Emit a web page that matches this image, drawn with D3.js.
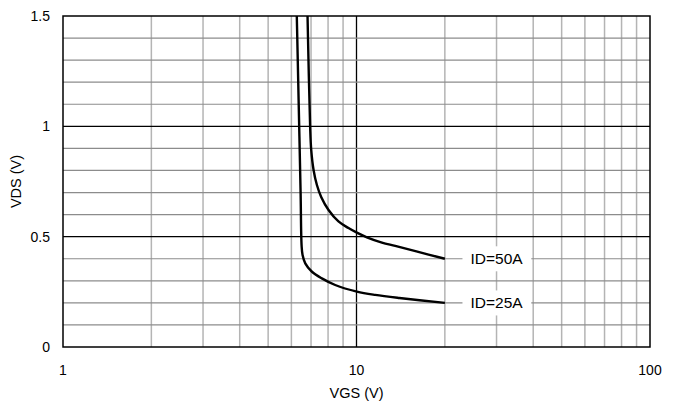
<!DOCTYPE html>
<html>
    <head>
        <script src="https://d3js.org/d3.v7.min.js"></script>
        <style>
            body { margin: 0; background: #fff; }
            text { font-family: "Liberation Sans", Arial, sans-serif; fill: #000; }
        </style>
    </head>
    <body>
        <svg id="chart" width="676" height="405"></svg>
        <script>
            // data
            let vgs50= [6.81, 6.95, 7.01, 7.14, 7.33, 7.58, 8.03, 8.68, 9.39, 10.03, 10.85, 12.21, 13.55, 16.0, 20.0];
            let vds50= [1.5, 1.0, 0.893, 0.802, 0.734, 0.680, 0.621, 0.569, 0.539, 0.518, 0.497, 0.473, 0.458, 0.433, 0.40];
            let vgs25= [6.26, 6.35, 6.45, 6.5, 6.55, 6.69, 7.05, 7.62, 8.46, 10.03, 11.58, 14.0, 20.0];
            let vds25= [1.5, 1.12, 0.7, 0.46, 0.417, 0.379, 0.341, 0.311, 0.281, 0.251, 0.236, 0.222, 0.20];
            let labels= ["ID=50A", "ID=25A"];
            let labelAt= [[30, 0.4], [30, 0.2]];
            let xTicks= [1, 10, 100];
            let yTicks= [0, 0.5, 1, 1.5];

            let svg= d3.select("#chart");
            let pLeft= 63, pRight= 650, pTop= 16, pBottom= 347;

            let x= d3.scaleLog().domain([1, 100]).range([pLeft, pRight]);
            let y= d3.scaleLinear().domain([0, 1.5]).range([pBottom, pTop]);

            //grid
            let grid= svg.append("g");
            let minorX= [];
            for (let d= 1; d < 100; d*= 10) {
                for (let k= 2; k <= 10; k++) {
                    if (d * k < 100) minorX.push(d * k);
                }
            }
            grid.selectAll(".vx").data(minorX).enter().append("line")
                .attr("x1", d => x(d)).attr("x2", d => x(d))
                .attr("y1", pTop).attr("y2", pBottom)
                .attr("stroke", d => d == 10 ? "#000" : "#b4b4b4")
                .attr("stroke-width", d => d == 10 ? 1.3 : 1.5);
            let minorY= d3.range(1, 15).map(i => i / 10);
            grid.selectAll(".hy").data(minorY).enter().append("line")
                .attr("x1", pLeft).attr("x2", pRight)
                .attr("y1", d => y(d)).attr("y2", d => y(d))
                .attr("stroke", d => (Math.round(d * 10) % 5 == 0) ? "#000" : "#8c8c8c")
                .attr("stroke-width", d => (Math.round(d * 10) % 5 == 0) ? 1.3 : 1.2);

            //curves
            let line= d3.line()
                .x(d => x(d[0]))
                .y(d => y(d[1]))
                .curve(d3.curveCatmullRom.alpha(0.5));
            let curves= [d3.zip(vgs50, vds50), d3.zip(vgs25, vds25)];
            svg.append("clipPath").attr("id", "clip").append("rect")
                .attr("x", pLeft).attr("y", pTop)
                .attr("width", pRight - pLeft).attr("height", pBottom - pTop);
            svg.append("g").attr("clip-path", "url(#clip)")
                .selectAll("path").data(curves).enter().append("path")
                .attr("d", line)
                .attr("fill", "none")
                .attr("stroke", "#000")
                .attr("stroke-width", 2.4);

            //labels with white boxes
            for (let i= 0; i < labels.length; i++) {
                let g= svg.append("g");
                let bg= g.append("rect").attr("fill", "#fff");
                let t= g.append("text")
                    .attr("x", x(labelAt[i][0]))
                    .attr("y", y(labelAt[i][1]))
                    .attr("dy", "0.36em")
                    .attr("text-anchor", "middle")
                    .attr("font-size", 15.5)
                    .text(labels[i]);
                let b= t.node().getBBox();
                bg.attr("x", b.x - 8).attr("y", b.y - 4)
                    .attr("width", b.width + 16).attr("height", b.height + 8);
            }

            //frame
            svg.append("rect")
                .attr("x", pLeft).attr("y", pTop)
                .attr("width", pRight - pLeft).attr("height", pBottom - pTop)
                .attr("fill", "none")
                .attr("stroke", "#000")
                .attr("stroke-width", 1.5);

            //tick labels
            svg.selectAll(".xt").data(xTicks).enter().append("text")
                .attr("x", d => x(d)).attr("y", 375)
                .attr("text-anchor", "middle")
                .attr("font-size", 14)
                .text(d => d);
            svg.selectAll(".yt").data(yTicks).enter().append("text")
                .attr("x", 50).attr("y", d => y(d))
                .attr("dy", "0.36em")
                .attr("text-anchor", "end")
                .attr("font-size", 14)
                .text(d => d);

            //axis titles
            svg.append("text")
                .attr("x", x(10)).attr("y", 398)
                .attr("text-anchor", "middle")
                .attr("font-size", 14.5)
                .text("VGS (V)");
            svg.append("text")
                .attr("transform", "translate(21," + ((pTop + pBottom) / 2) + ") rotate(-90)")
                .attr("text-anchor", "middle")
                .attr("font-size", 14.5)
                .text("VDS (V)");
        </script>
    </body>
</html>
